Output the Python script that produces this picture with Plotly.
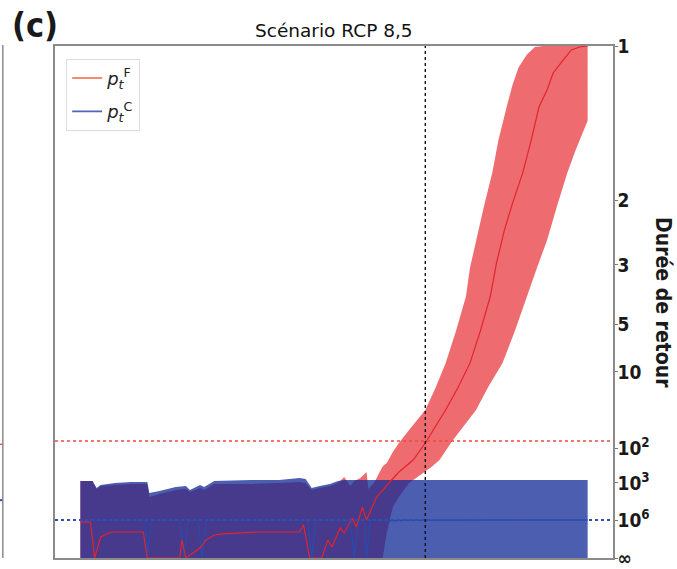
import numpy as np
import plotly.graph_objects as go

INF = np.inf

# ---- return-period axis (right side) ----
tick_periods = [1, 2, 3, 5, 10, 100, 1000, 1e6, INF]
tick_labels = ["1", "2", "3", "5", "10", "10<sup>2</sup>", "10<sup>3</sup>", "10<sup>6</sup>", "∞"]

# knots of the compressed return-period scale: log10(T) -> height in the panel
scale_log_T = [0.0, np.log10(2), np.log10(3), np.log10(5), 1.0, 2.0, 3.0, 6.0, 12.0]
scale_height = [1.0, 0.6992, 0.5723, 0.4570, 0.3633, 0.2148, 0.1465, 0.0742, 0.0]


def to_axis(periods):
    t = np.asarray(periods, dtype=float)
    t = np.where(np.isinf(t), 1e300, t)
    return np.interp(np.log10(t), scale_log_T, scale_height)


# ---- factual world p_t^F (return periods, years) ----
f_hi_years = [1850, 1856, 1858, 1860, 1867, 1875, 1883, 1884, 1889, 1897, 1902, 1904,
              1909, 1911, 1916, 1934, 1948, 1958, 1961, 1964, 1968, 1973, 1977, 1980,
              1983, 1985, 1988, 1991, 1992, 1995, 1999, 2001, 2004, 2007, 2012, 2016,
              2020, 2025, 2030, 2035, 2040, 2042, 2045, 2049, 2053, 2056, 2060, 2063,
              2066, 2070, 2074, 2078, 2100]
f_hi = [880, 880, 3000, 1750, 1450, 1200, 1200, 13600, 7800, 3700, 3000, 5400,
        2500, 3700, 1200, 1200, 1000, 940, 1000, 3700, 2500, 1750, 1000, 670,
        1750, 880, 720, 485, 3000, 940, 330, 270, 130, 86, 58, 42.8,
        31.6, 16.2, 8.8, 5.6, 3.95, 3.08, 2.57, 2.07, 1.77, 1.53, 1.32, 1.19,
        1.10, 1.04, 1.005, 1.0, 1.0]

f_lo_years = [1850, 1999, 2001, 2004, 2007, 2012, 2023, 2027, 2033, 2039, 2045, 2051,
              2058, 2064, 2070, 2075, 2080, 2085, 2090, 2094, 2100]
f_lo = [INF, INF, 1.1e8, 8.8e4, 1.36e4, 1000, 349, 220, 83, 51, 31.6, 15.8,
        8.8, 5.6, 3.95, 3.08, 2.57, 2.07, 1.77, 1.6, 1.4]

f_med_years = [1850, 1855, 1857, 1860, 1865, 1881, 1883, 1899, 1900, 1902, 1909, 1912,
               1916, 1920, 1938, 1958, 1960, 1963, 1969, 1972, 1974, 1978, 1980, 1984,
               1986, 1989, 1991, 1996, 2000, 2002, 2007, 2014, 2020, 2025, 2030, 2036,
               2042, 2047, 2052, 2055, 2059, 2063, 2068, 2072, 2076, 2080, 2083, 2088,
               2092, 2096, 2100]
f_med = [2.1e6, 2.1e6, INF, 4.8e8, 7.8e7, 7.8e7, INF, INF, 1.4e9, INF, 2.6e10, 1.4e9,
         2.3e8, 1.6e8, 7.8e7, 7.8e7, 6.1e6, INF, INF, 1.4e9, 1.8e10, 1.8e7, 1.1e8, 6.9e5,
         1.26e7, 8.9e4, 1.0e6, 13600, 2540, 1000, 485, 220, 86, 53, 31.6, 16.2,
         8.8, 5.6, 3.95, 2.98, 2.41, 2.04, 1.77, 1.54, 1.316, 1.219, 1.129, 1.065,
         1.018, 1.0045, 1.0]

# ---- counterfactual world p_t^C ----
c_hi_years = [1850, 1856, 1858, 1860, 1867, 1875, 1883, 1884, 1889, 1897, 1902, 1904,
              1909, 1911, 1916, 1934, 1948, 1958, 1961, 1964, 1968, 1973, 1977, 1980, 2100]
c_hi = [877, 877, 2540, 1450, 1000, 940, 940, 6400, 4450, 2100, 1750, 3700,
        1450, 2100, 877, 820, 820, 720, 770, 2540, 1750, 1200, 877, 820, 820]
c_lo_years = [1850, 2100]
c_lo = [INF, INF]

c_med_years = [1850, 1882, 1883, 1885, 1899, 1901, 1903, 1908, 1910, 1912, 1962, 1964,
               1966, 1983, 1985, 1987, 1990, 1991, 1993, 2003, 2010, 2100]
c_med = [1.1e6, 1.1e6, INF, 1.1e6, 1.1e6, INF, 1.1e6, 1.1e6, INF, 1.1e6, 1.1e6, INF,
         1.1e6, 1.1e6, INF, 1.1e6, 1.1e6, INF, 1.1e6, 1.3e6, 1.05e6, 1.0e6]

# thresholds and reference year
threshold_F = 81
threshold_C = 1e6
reference_year = 2020

RED_FILL = "rgba(231,44,51,0.70)"
BLUE_FILL = "rgba(15,40,150,0.75)"

fig = go.Figure()

fig.add_trace(go.Scatter(
    x=f_hi_years + f_lo_years[::-1],
    y=np.concatenate([to_axis(f_hi), to_axis(f_lo)[::-1]]),
    fill="toself", fillcolor=RED_FILL, line=dict(width=0),
    mode="lines", showlegend=False, hoverinfo="skip"))

fig.add_trace(go.Scatter(
    x=c_hi_years + c_lo_years[::-1],
    y=np.concatenate([to_axis(c_hi), to_axis(c_lo)[::-1]]),
    fill="toself", fillcolor=BLUE_FILL, line=dict(width=0),
    mode="lines", showlegend=False, hoverinfo="skip"))

fig.add_trace(go.Scatter(
    x=c_med_years, y=to_axis(c_med), mode="lines",
    line=dict(color="#2c49a8", width=1.5), showlegend=False))

fig.add_trace(go.Scatter(
    x=f_med_years, y=to_axis(f_med), mode="lines",
    line=dict(color="#e3242b", width=1.2), showlegend=False))

# legend handles
fig.add_trace(go.Scatter(
    x=[None], y=[None], mode="lines", line=dict(color="#f0653f", width=1.6),
    name="<i>p</i><sub><i>t</i></sub><sup>F</sup>", legendgroup="F"))
fig.add_trace(go.Scatter(
    x=[None], y=[None], mode="lines", line=dict(color="#5565b5", width=1.6),
    name="<i>p</i><sub><i>t</i></sub><sup>C</sup>", legendgroup="C"))

# threshold lines and reference year
yF = float(to_axis([threshold_F])[0])
yC = float(to_axis([threshold_C])[0])
fig.add_shape(type="line", xref="paper", x0=0, x1=1, y0=yF, y1=yF,
              line=dict(color="#f04a3a", width=1.4, dash="dot"))
fig.add_shape(type="line", xref="paper", x0=0, x1=1, y0=yC, y1=yC,
              line=dict(color="#2f4fb0", width=2, dash="dot"))
fig.add_shape(type="line", yref="paper", x0=reference_year, x1=reference_year, y0=0, y1=1,
              line=dict(color="#111", width=1.4, dash="dot"))

# edge of the neighbouring panel
fig.add_shape(type="line", xref="paper", yref="paper", x0=-0.0935, x1=-0.0935, y0=0, y1=1.002,
              line=dict(color="#8a8a8a", width=1.5))
fig.add_shape(type="line", xref="paper", yref="paper", x0=-0.1, x1=-0.0935, y0=0.222, y1=0.222,
              line=dict(color="#f04a3a", width=1.4, dash="dot"))
fig.add_shape(type="line", xref="paper", yref="paper", x0=-0.1, x1=-0.0935, y0=0.113, y1=0.113,
              line=dict(color="#2f4fb0", width=2, dash="dot"))

COND = "DejaVu Sans Condensed, DejaVu Sans, sans-serif"
tick_font = dict(family=COND, size=19, color="#1a1a1a", weight="bold")

fig.update_layout(
    width=677, height=569,
    margin=dict(l=55, r=64, t=46, b=11, autoexpand=False),
    paper_bgcolor="white", plot_bgcolor="white",
    showlegend=True,
    legend=dict(x=0.02, y=0.975, xanchor="left", yanchor="top",
                bgcolor="rgba(255,255,255,0.9)", bordercolor="#dddddd", borderwidth=1,
                font=dict(family="DejaVu Sans", size=18, color="#222"),
                tracegroupgap=7),
    xaxis=dict(range=[1837.5, 2112.5], showgrid=False, zeroline=False,
               showticklabels=False, ticks="", automargin=False,
               showline=True, mirror=True, linecolor="#8a8a8a", linewidth=1.5),
    yaxis=dict(range=[0, 1], side="right", showgrid=False, zeroline=False,
               tickmode="array", tickvals=list(to_axis(tick_periods)), ticktext=tick_labels,
               ticks="outside", ticklen=3, tickcolor="#777", tickfont=tick_font,
               ticklabelstandoff=-4, automargin=False,
               showline=True, mirror=True, linecolor="#8a8a8a", linewidth=1.5),
    annotations=[
        dict(text="Scénario RCP 8,5", xref="paper", yref="paper", x=0.5, y=1.0,
             xanchor="center", yanchor="bottom", yshift=3, showarrow=False,
             font=dict(family="DejaVu Sans", size=18.5, color="#111")),
        dict(text="(c)", xref="paper", yref="paper", x=-0.0806, y=1.0,
             xanchor="left", yanchor="top", yshift=43, showarrow=False,
             font=dict(family=COND, size=34, color="#1a1a1a", weight="bold")),
        dict(text="Durée de retour", xref="paper", yref="paper", x=1.0, y=0.5,
             xanchor="left", yanchor="middle", xshift=36, textangle=90, showarrow=False,
             font=dict(family=COND, size=21, color="#1a1a1a", weight="bold")),
    ],
)

fig.write_html("out.html")
